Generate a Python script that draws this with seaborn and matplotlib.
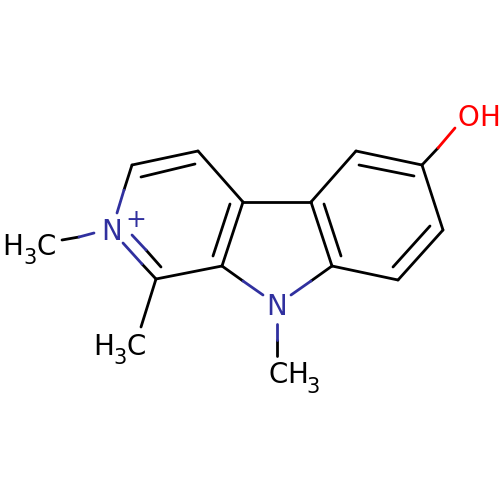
import pandas as pd
import matplotlib
matplotlib.use("Agg")
import matplotlib.pyplot as plt
import seaborn as sns

# bond segments (start x, start y, end x, end y, element colour key)
seg_x0 = [132,198,243,222,132,141,230,123,142,132,146,94,79,156,
          243,311,356,422,443,398,332,324,359,430,
          222,243,291,311,277,277,422,438,124]
seg_y0 = [165,151,202,266,165,177,204,243,264,235,250,233,237,279,
          202,202,151,165,230,280,266,204,165,226,
          266,281,295,281,324,340,165,148,190]
seg_x1 = [198,243,222,156,124,195,213,142,156,146,161,79,62,141,
          311,356,422,443,398,332,311,341,414,393,
          243,263,311,332,277,277,438,455,117]
seg_y1 = [151,202,266,279,190,164,256,264,279,250,267,237,240,327,
          202,151,165,230,280,266,202,256,176,267,
          281,295,281,266,340,356,148,128,213]
seg_el = ["C","C","C","C","C","C","C","N","C","N","C","N","C","C",
          "C","C","C","C","C","C","C","C","C","C",
          "C","N","N","C","N","C","C","O","N"]

# atom labels: text, x, baseline y, font size, element
lab_txt = ["H","3","C","N","+","H","3","C","N","C","H","3","O","H"]
lab_x   = [13,30,46,112,136,104,120,136,277,278,298,313,468,490]
lab_y   = [255,264,255,240,227,355,364,355,315,383,383,393,126,126]
lab_fs  = [20,15,20,20,18,20,15,20,20,20,20,15,20,20]
lab_el  = ["C","C","C","N","N","C","C","C","N","C","C","C","O","O"]

palette = {"C": "#000000", "N": "#30309f", "O": "#ff0000"}

rows = []
for i, (a, b, c, d, e) in enumerate(zip(seg_x0, seg_y0, seg_x1, seg_y1, seg_el)):
    rows.append({"seg": i, "x": a, "y": b, "el": e})
    rows.append({"seg": i, "x": c, "y": d, "el": e})
df = pd.DataFrame(rows)

sns.set_theme(style="white")
fig = plt.figure(figsize=(5, 5), dpi=100)
ax = fig.add_axes([0, 0, 1, 1])
sns.lineplot(data=df, x="x", y="y", units="seg", hue="el", palette=palette,
             estimator=None, sort=False, legend=False, ax=ax,
             linewidth=2.0, solid_capstyle="round")
ax.set_xlim(0, 500)
ax.set_ylim(500, 0)
ax.axis("off")

for t, x, y, fs, e in zip(lab_txt, lab_x, lab_y, lab_fs, lab_el):
    ax.text(x, y, t, fontsize=fs, color=palette[e], ha="center", va="baseline",
            family="DejaVu Sans")

fig.savefig("out.png", dpi=100, facecolor="white")
